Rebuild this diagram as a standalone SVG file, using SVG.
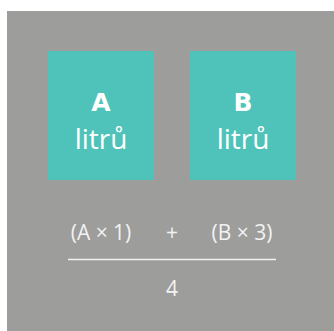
<svg xmlns="http://www.w3.org/2000/svg" width="334" height="331" viewBox="0 0 334 331">
<style>
.box{fill:#4fc3b9}
.t{fill:#ffffff;text-anchor:middle}
.big{font-family:"DejaVu Sans","Open Sans",sans-serif;font-size:25px;font-weight:700}
.unit{font-family:"Open Sans","Liberation Sans",sans-serif;font-size:28px;font-weight:400}
.f{font-family:"Open Sans","Liberation Sans",sans-serif;fill:#f2f2f2;font-size:21px;text-anchor:middle}
</style>
<rect x="0" y="0" width="334" height="331" fill="#ffffff"/>
<rect x="7" y="11" width="327" height="320" fill="#9d9d9b"/>
<g id="nodeA">
<rect class="box" x="48" y="51" width="106" height="129"/>
<text class="t big" x="101" y="111">A</text>
<text class="t unit" x="101" y="149">litrů</text>
</g>
<g id="nodeB">
<rect class="box" x="190" y="51" width="106" height="129"/>
<text class="t big" x="243" y="111">B</text>
<text class="t unit" x="243" y="149">litrů</text>
</g>
<g id="formula">
<text class="f" x="101" y="240">(A × 1)</text>
<text class="f" x="172" y="240">+</text>
<text class="f" x="242" y="240">(B × 3)</text>
<line x1="68" y1="259.5" x2="276" y2="259.5" stroke="#f2f2f2" stroke-width="1.5"/>
<text class="f" x="172" y="296">4</text>
</g>
</svg>
